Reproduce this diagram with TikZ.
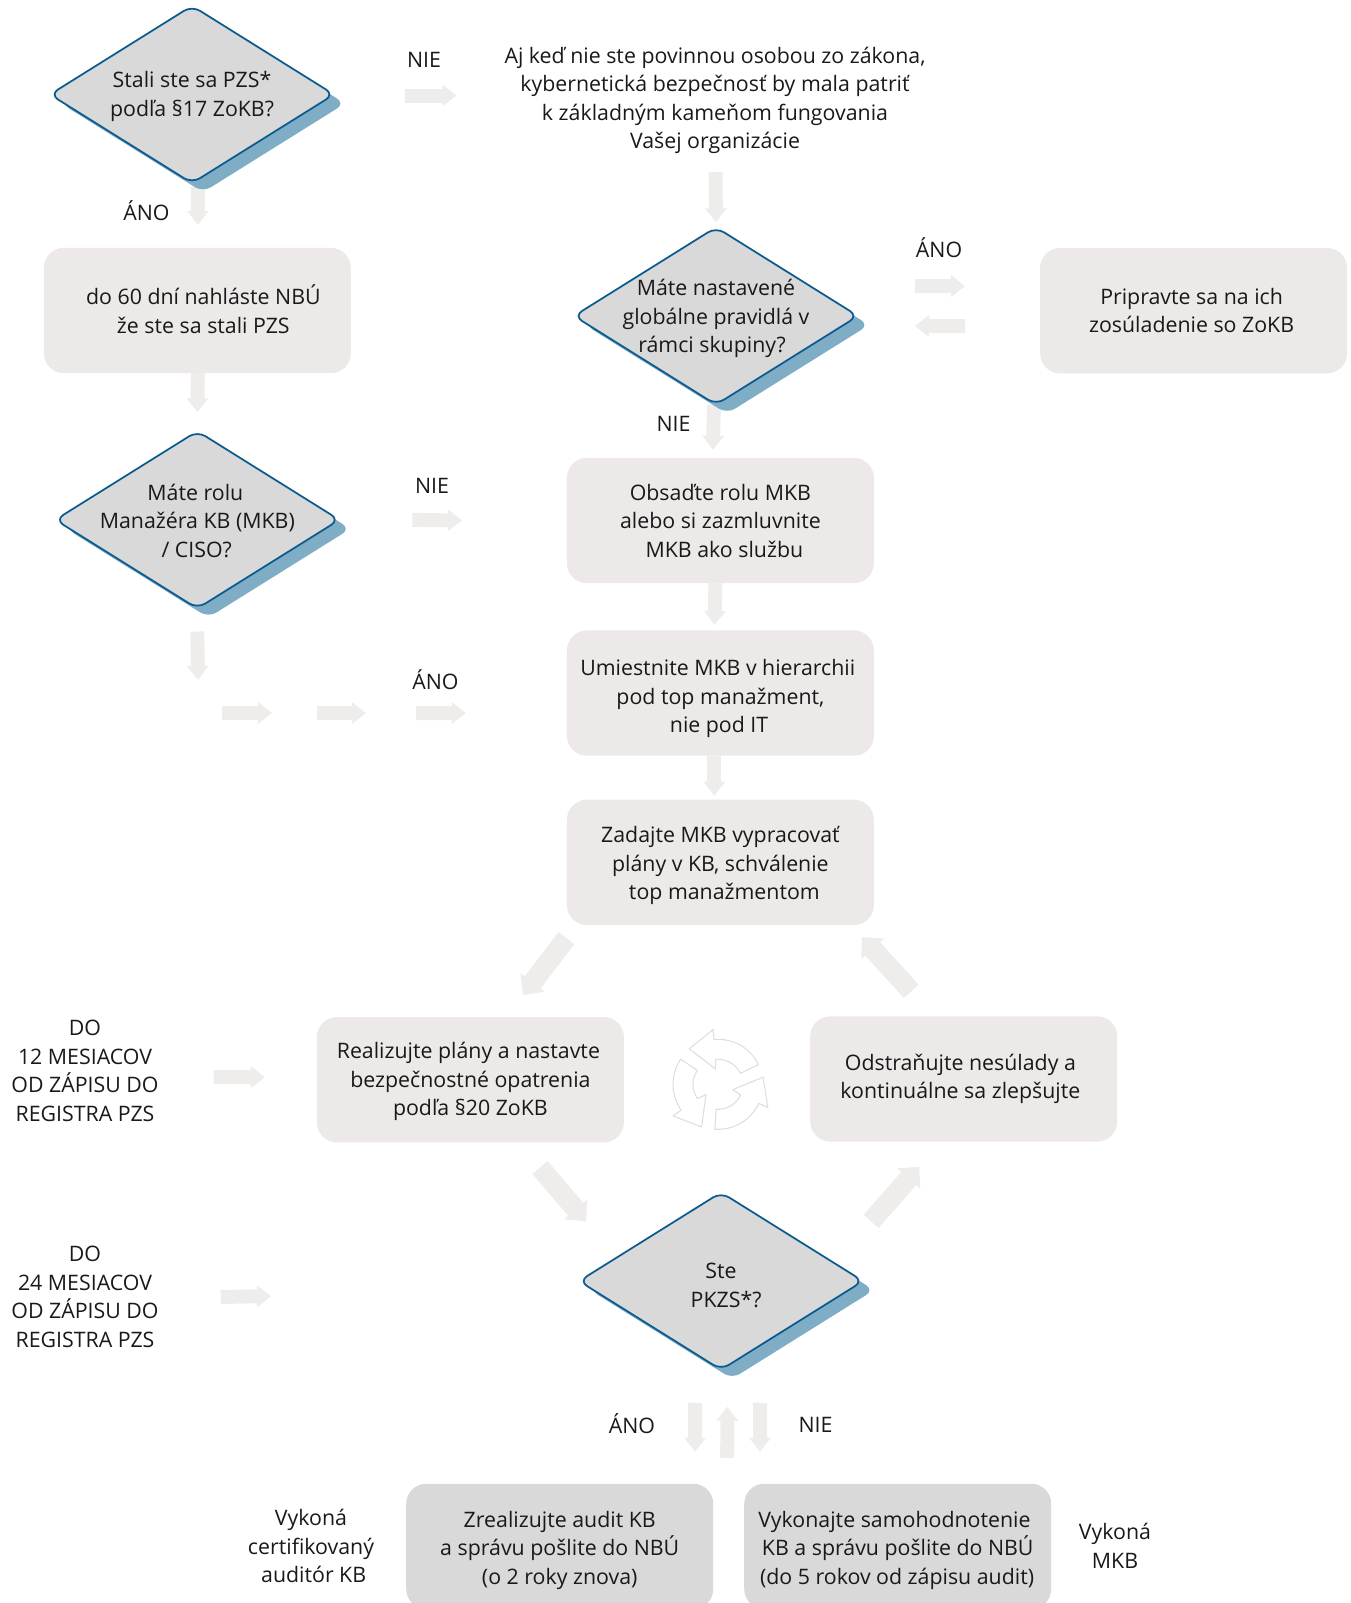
\documentclass[tikz,border=0pt]{standalone}
\usepackage{fontspec}
\setmainfont{Open Sans}
\usetikzlibrary{arrows.meta, positioning, shapes.geometric, shadows, backgrounds}
\definecolor{boxgray}{HTML}{ECE9E8}
\definecolor{arrowgray}{HTML}{EFEDEC}
\definecolor{decisiongray}{HTML}{D9D9D9}
\definecolor{decisionblue}{HTML}{0B5A8E}
\definecolor{shadowblue}{HTML}{7FADC6}
\definecolor{cyclegray}{HTML}{DEDEDE}
\newcommand{\flowfont}{\fontsize{16}{21.4}\selectfont}
\newcommand{\nudge}[1]{\rule{0pt}{\dimexpr 12pt+2\dimexpr #1\relax\relax}}

\begin{document}
\begin{tikzpicture}[
    x=0.75pt, y=-0.75pt,
    on grid,
    every node/.style={font=\flowfont, text=black!90, align=center, inner sep=0pt, outer sep=0pt},
    decision/.style={diamond, aspect=1.6, inner sep=-12pt, minimum width=213pt, minimum height=133pt,
        fill=decisiongray, draw=decisionblue, line width=1.3pt, rounded corners=7pt,
        general shadow={fill=shadowblue, draw=none, shadow xshift=8.25pt, shadow yshift=-6.75pt}},
    flowbox/.style={rectangle, rounded corners=15pt, minimum width=230.25pt, minimum height=94pt, fill=boxgray},
    auditbox/.style={flowbox, fill=decisiongray},
    flowarrow/.style={draw=arrowgray, line width=10.5pt, -{Triangle[length=10.5pt, width=15.75pt]}, arrowgray},
    diagarrow/.style={flowarrow, line width=15pt, -{Triangle[length=12pt, width=22.5pt]}}
]
\useasboundingbox (0,0) rectangle (1351,1603);

   % Left column
   \node[decision] (dStali) at (192,94.5) {\nudge{1.5pt}Stali ste sa PZS*\\podľa §17 ZoKB?};
   \node[flowbox, below right=162pt and 4pt of dStali] (bNahlaste) {\hspace*{9pt}do 60 dní nahláste NBÚ\\\hspace*{9pt}že ste sa stali PZS\rule[-2.2pt]{0pt}{0pt}};
   \node[decision, below=157pt of bNahlaste] (dRola) {\nudge{0.8pt}Máte rolu\hspace*{3pt}\\Manažéra KB (MKB)\hspace*{3pt}\\/ CISO?\hspace*{1pt}};

   % Middle column
   \node (tPovinna) at (715,100.5) {Aj keď nie ste povinnou osobou zo zákona,\\kybernetická bezpečnosť by mala patriť\hspace*{8pt}\\k základným kameňom fungovania\hspace*{8pt}\\Vašej organizácie};
   \node[decision] (dGlobal) at (716,316) {\nudge{2pt}Máte nastavené\\globálne pravidlá v\\rámci skupiny?\hspace*{6pt}};
   \node[flowbox, above right=4pt and 358.2pt of dGlobal] (bPripravte) {Pripravte sa na ich\hspace*{3pt}\\zosúladenie so ZoKB\hspace*{3pt}};
   \node[flowbox, below right=153.4pt and 3.3pt of dGlobal] (bObsadte) {Obsaďte rolu MKB\\alebo si zazmluvnite\\\hspace*{6pt}MKB ako službu};
   \node[flowbox, below=129.4pt of bObsadte] (bUmiestnite) {\nudge{4.2pt}Umiestnite MKB v hierarchii\hspace*{4pt}\\pod top manažment,\hspace*{4pt}\\nie pod IT\hspace*{2pt}};
   \node[flowbox, below=127pt of bUmiestnite] (bZadajte) {\nudge{2.7pt}Zadajte MKB vypracovať\\plány v KB, schválenie\\\hspace*{6pt}top manažmentom};

   % Cycle
   \node[flowbox, below left=163pt and 187.5pt of bZadajte] (bRealizujte) {\nudge{1.5pt}Realizujte plány a nastavte\hspace*{3pt}\\bezpečnostné opatrenia\hspace*{3pt}\\podľa §20 ZoKB};
   \node[flowbox, below right=162.4pt and 182.5pt of bZadajte] (bOdstranujte) {Odstraňujte nesúlady a\hspace*{5pt}\\kontinuálne sa zlepšujte\hspace*{5pt}};
   \node[decision, below right=314pt and 0.5pt of bZadajte] (dPkzs) {\nudge{3pt}Ste\\\hspace*{7.5pt}PKZS*?};
   \node[auditbox, below left=199pt and 121pt of dPkzs] (bAudit) {\nudge{3pt}Zrealizujte audit KB\\a správu pošlite do NBÚ\\(o 2 roky znova)};
   \node[auditbox, below right=199pt and 132.5pt of dPkzs] (bSamo) {\nudge{3pt}Vykonajte samohodnotenie\hspace*{5pt}\\KB a správu pošlite do NBÚ\hspace*{5pt}\\(do 5 rokov od zápisu audit)\hspace*{1pt}};

   % Free labels
   \node (lNieA) at (424,60) {NIE};
   \node (lAnoA) at (146.5,211) {ÁNO};
   \node (lAnoB) at (939,248) {ÁNO};
   \node (lNieB) at (673.5,424) {NIE};
   \node (lNieC) at (432,486) {NIE};
   \node (lAnoC) at (435.5,680) {ÁNO};
   \node (lAnoD) at (632,1424) {ÁNO};
   \node (lNieD) at (815.5,1425) {NIE};
   \node (tDo12) at (85,1071) {DO\\12 MESIACOV\\OD ZÁPISU DO\\REGISTRA PZS};
   \node (tDo24) at (85,1297) {DO\\24 MESIACOV\\OD ZÁPISU DO\\REGISTRA PZS};
   \node (tAuditor) at (311,1546) {Vykoná\\certifikovaný\\\hspace*{4pt}auditór KB};
   \node (tMkb) at (1115,1545.6) {Vykoná\\MKB};

   % Loose ends of the hops
   \coordinate (cRolaEnd) at (198,680);
   \coordinate (cHopA) at (222,713);
   \coordinate (cHopB) at (272,713);
   \coordinate (cHopC) at (317,713);
   \coordinate (cHopD) at (366,713);
   \coordinate (cHopE) at (416,713);

   % Arrows
   \begin{pgfonlayer}{background}
   \draw[flowarrow] ([shift={(6,4)}]dStali.south) -- ([shift={(0.5,-23)}]bNahlaste.north);
   \draw[flowarrow] ([shift={(71,1)}]dStali.east) -- ([shift={(-48,-5)}]tPovinna.west);
   \draw[flowarrow] ([shift={(0.5,0)}]bNahlaste.south) -- ([shift={(0,-19)}]dRola.north);
   \draw[flowarrow] ([shift={(0.5,18)}]tPovinna.south) -- ([shift={(0,-5)}]dGlobal.north);
   \draw[flowarrow] ([shift={(57,-30)}]dGlobal.east) -- ([shift={(-75,-24.5)}]bPripravte.west);
   \draw[flowarrow] ([shift={(-75,15.5)}]bPripravte.west) -- ([shift={(57,10)}]dGlobal.east);
   \draw[flowarrow] ([shift={(-2,0)}]dGlobal.south) -- ([shift={(-7.5,-8)}]bObsadte.north);
   \draw[flowarrow] ([shift={(73,0)}]dRola.east) -- ([shift={(-105,0)}]bObsadte.west);
   \draw[flowarrow] ([shift={(-5,0)}]bObsadte.south) -- ([shift={(-6,-5.5)}]bUmiestnite.north);
   \draw[flowarrow] ([shift={(0,23)}]dRola.south) -- (cRolaEnd);
   \draw[flowarrow] (cHopA) -- (cHopB);
   \draw[flowarrow] (cHopC) -- (cHopD);
   \draw[flowarrow] (cHopE) -- ([shift={(-101,20)}]bUmiestnite.west);
   \draw[flowarrow] ([shift={(-6,0)}]bUmiestnite.south) -- ([shift={(-6,-4)}]bZadajte.north);
   \draw[diagarrow] ([shift={(-0.5,13)}]bZadajte.south west) -- ([shift={(52.5,-22)}]bRealizujte.north);
   \draw[diagarrow] ([shift={(69.5,25)}]bRealizujte.south) -- ([shift={(-135,29)}]dPkzs.north);
   \draw[diagarrow] ([shift={(150,29)}]dPkzs.north) -- ([shift={(-44.5,25)}]bOdstranujte.south);
   \draw[diagarrow] ([shift={(-52.5,-25)}]bOdstranujte.north) -- ([shift={(-12,12)}]bZadajte.south east);
   \draw[flowarrow] ([shift={(55,6)}]tDo12.east) -- ([shift={(-52,-2.5)}]bRealizujte.west);
   \draw[flowarrow] ([shift={(62,0)}]tDo24.east) -- ([shift={(-308,15)}]dPkzs.west);
   \draw[flowarrow] ([shift={(-26,33)}]dPkzs.south) -- ([shift={(135.3,-32)}]bAudit.north);
   \draw[flowarrow] ([shift={(-170.5,-26)}]bSamo.north) -- ([shift={(6.2,37)}]dPkzs.south);
   \draw[flowarrow] ([shift={(39,33)}]dPkzs.south) -- ([shift={(-137.7,-32)}]bSamo.north);
   \end{pgfonlayer}

   % Cycle sign
   \foreach \rot in {0,120,240} {
      \draw[cyclegray, line width=0.8pt, line join=round, shift={(718,1084.3)}, x=0.75pt, y=0.75pt, rotate=\rot]
         (26:45) arc[start angle=26, end angle=95, radius=45] -- (95:55) -- (129:45.7) -- (100:15.7) -- (95:25)
         arc[start angle=95, end angle=26, radius=25] -- cycle;
   }

\end{tikzpicture}
\end{document}
